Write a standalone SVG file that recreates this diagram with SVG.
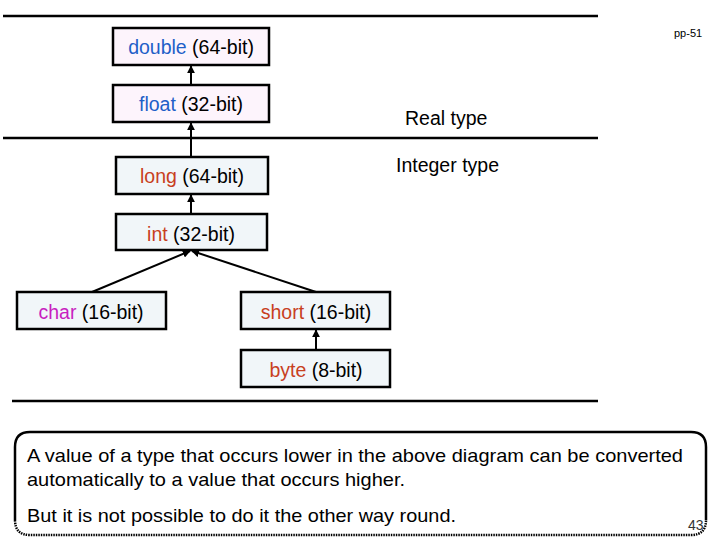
<svg xmlns="http://www.w3.org/2000/svg" width="720" height="540" viewBox="0 0 720 540">
<defs>
<style>
.box{stroke:#000;stroke-width:2.5}
.real{fill:#FDF4FC}
.int{fill:#F1F6F9}
.t{font-family:"Liberation Sans",Arial,sans-serif;font-size:19.5px;fill:#000;text-anchor:middle}
.b{fill:#1F5FC8}
.r{fill:#C8401E}
.m{fill:#C81EC0}
.rule{stroke:#000;stroke-width:2.5}
.con{stroke:#000;stroke-width:2;fill:none;marker-end:url(#ah)}
.note{font-family:"Liberation Sans",Arial,sans-serif;font-size:19px;fill:#000}
</style>
<marker id="ah" viewBox="0 0 10 10" refX="9" refY="5" markerWidth="4" markerHeight="4" orient="auto" markerUnits="strokeWidth">
<path d="M0,0 L10,5 L0,10 z" fill="#000"/>
</marker>
</defs>
<rect width="720" height="540" fill="#fff"/>
<g id="rules">
<line class="rule" x1="3" y1="16" x2="598" y2="16"/>
<line class="rule" x1="3" y1="138" x2="598" y2="138"/>
<line class="rule" x1="12" y1="401" x2="598" y2="401"/>
</g>
<text x="674" y="37" font-family="Liberation Sans,Arial,sans-serif" font-size="11">pp-51</text>
<text x="405" y="125" class="t" style="text-anchor:start">Real type</text>
<text x="396" y="172" class="t" style="text-anchor:start">Integer type</text>
<g id="connectors">
<line class="con" x1="191" y1="85" x2="191" y2="66"/>
<line class="con" x1="191" y1="157" x2="191" y2="123"/>
<line class="con" x1="191" y1="214" x2="191" y2="195"/>
<line class="con" x1="92" y1="292" x2="190" y2="251"/>
<line class="con" x1="316" y1="292" x2="192" y2="251"/>
<line class="con" x1="316" y1="350" x2="316" y2="330"/>
</g>
<g id="double"><rect class="box real" x="113" y="28" width="156" height="37"/><text class="t" x="191" y="54"><tspan class="b">double</tspan> (64-bit)</text></g>
<g id="float"><rect class="box real" x="113" y="85" width="156" height="37"/><text class="t" x="191" y="111"><tspan class="b">float</tspan> (32-bit)</text></g>
<g id="long"><rect class="box int" x="116" y="157" width="152" height="37"/><text class="t" x="192" y="183"><tspan class="r">long</tspan> (64-bit)</text></g>
<g id="int"><rect class="box int" x="116" y="214" width="151" height="36"/><text class="t" x="191" y="241"><tspan class="r">int</tspan> (32-bit)</text></g>
<g id="char"><rect class="box int" x="17" y="292" width="149" height="37"/><text class="t" x="91" y="319"><tspan class="m">char</tspan> (16-bit)</text></g>
<g id="short"><rect class="box int" x="241" y="292" width="149" height="37"/><text class="t" x="316" y="319"><tspan class="r">short</tspan> (16-bit)</text></g>
<g id="byte"><rect class="box int" x="241" y="350" width="149" height="37"/><text class="t" x="316" y="377"><tspan class="r">byte</tspan> (8-bit)</text></g>
<g id="note">
<path d="M15,520 L15,447 Q15,432 30,432 L691,432 Q706,432 706,447 L706,520" fill="#fff" stroke="#000" stroke-width="2.5"/>
<path d="M15,520 Q15,535 30,535 L691,535 Q706,535 706,520" fill="none" stroke="#000" stroke-width="2.5" stroke-dasharray="1.5,1"/>
<text class="note" x="27" y="462" textLength="656" lengthAdjust="spacingAndGlyphs">A value of a type that occurs lower in the above diagram can be converted</text>
<text class="note" x="27" y="486" textLength="378" lengthAdjust="spacingAndGlyphs">automatically to a value that occurs higher.</text>
<text class="note" x="27" y="522" textLength="429" lengthAdjust="spacingAndGlyphs">But it is not possible to do it the other way round.</text>
<text x="688" y="530" font-family="Liberation Sans,Arial,sans-serif" font-size="14" fill="#333">43</text>
</g>
</svg>
